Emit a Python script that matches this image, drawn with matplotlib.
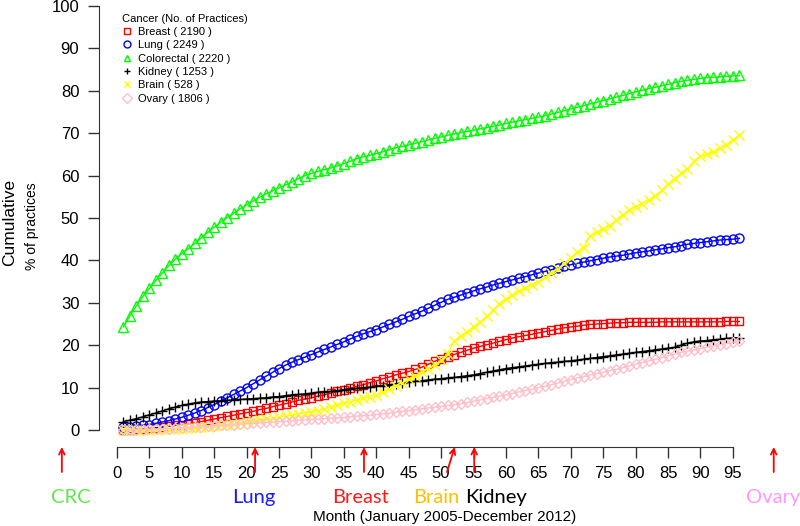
import matplotlib
matplotlib.use("Agg")
import matplotlib.pyplot as plt
from matplotlib.lines import Line2D

plt.rcParams["font.family"] = ["Liberation Sans", "DejaVu Sans"]

months = list(range(1, 97))

colorectal = [
    24.3, 27.0, 29.3, 31.5, 33.4, 35.3, 37.0, 38.8, 40.3, 41.6,
    42.8, 44.0, 45.3, 46.6, 47.8, 49.0, 50.1, 51.1, 52.2, 53.1,
    54.0, 54.9, 55.7, 56.4, 57.1, 57.8, 58.5, 59.3, 60.0, 60.5,
    61.0, 61.4, 61.8, 62.3, 62.8, 63.4, 64.0, 64.4, 64.8, 65.2,
    65.6, 66.1, 66.5, 66.9, 67.2, 67.6, 68.0, 68.4, 68.8, 69.1,
    69.5, 69.8, 70.1, 70.4, 70.7, 71.0, 71.3, 71.6, 71.9, 72.3,
    72.6, 72.9, 73.2, 73.5, 73.8, 74.1, 74.5, 74.9, 75.3, 75.7,
    76.1, 76.5, 76.9, 77.3, 77.7, 78.1, 78.5, 78.9, 79.3, 79.7,
    80.1, 80.5, 80.8, 81.2, 81.5, 81.9, 82.2, 82.5, 82.7, 82.9,
    83.1, 83.2, 83.3, 83.4, 83.5, 83.6,
]
lung = [
    0.7, 0.8, 0.9, 1.1, 1.3, 1.6, 1.9, 2.2, 2.6, 3.0,
    3.5, 4.0, 4.6, 5.3, 6.0, 6.8, 7.6, 8.4, 9.2, 10.0,
    10.9, 11.8, 12.7, 13.6, 14.5, 15.3, 16.0, 16.6, 17.2, 17.8,
    18.4, 19.0, 19.6, 20.2, 20.8, 21.5, 22.1, 22.7, 23.2, 23.7,
    24.3, 24.9, 25.5, 26.1, 26.8, 27.4, 28.0, 28.7, 29.4, 30.1,
    30.8, 31.3, 31.8, 32.3, 32.8, 33.3, 33.7, 34.2, 34.6, 35.0,
    35.4, 35.8, 36.2, 36.6, 37.0, 37.4, 37.8, 38.2, 38.6, 39.0,
    39.3, 39.6, 39.9, 40.2, 40.5, 40.8, 41.0, 41.2, 41.5, 41.8,
    42.0, 42.2, 42.5, 42.7, 43.0, 43.2, 43.5, 43.8, 44.0, 44.2,
    44.4, 44.6, 44.8, 44.9, 45.0, 45.2,
]
breast = [
    0.0, 0.1, 0.2, 0.3, 0.4, 0.5, 0.7, 0.9, 1.1, 1.3,
    1.5, 1.7, 2.0, 2.3, 2.6, 2.9, 3.2, 3.5, 3.8, 4.1,
    4.4, 4.8, 5.1, 5.5, 5.9, 6.2, 6.6, 7.0, 7.3, 7.6,
    8.0, 8.3, 8.7, 9.1, 9.5, 9.9, 10.3, 10.7, 11.2, 11.6,
    12.1, 12.5, 13.0, 13.4, 13.8, 14.3, 14.8, 15.5, 16.2, 16.8,
    17.3, 17.8, 18.3, 18.8, 19.3, 19.7, 20.1, 20.5, 20.9, 21.3,
    21.7, 22.0, 22.3, 22.6, 22.9, 23.2, 23.5, 23.8, 24.1, 24.3,
    24.5, 24.7, 24.9, 25.0, 25.1, 25.2, 25.3, 25.3, 25.4, 25.4,
    25.4, 25.4, 25.4, 25.5, 25.5, 25.5, 25.5, 25.5, 25.5, 25.5,
    25.5, 25.5, 25.5, 25.6, 25.6, 25.6,
]
kidney = [
    2.0, 2.3, 2.7, 3.1, 3.6, 4.0, 4.5, 5.0, 5.4, 5.8,
    6.1, 6.4, 6.6, 6.7, 6.8, 6.9, 7.0, 7.1, 7.2, 7.3,
    7.4, 7.5, 7.6, 7.8, 7.9, 8.1, 8.3, 8.4, 8.5, 8.7,
    8.9, 9.0, 9.1, 9.3, 9.5, 9.7, 9.8, 10.0, 10.1, 10.3,
    10.5, 10.7, 10.9, 11.1, 11.3, 11.5, 11.6, 11.8, 12.0, 12.1,
    12.3, 12.4, 12.6, 12.8, 13.0, 13.3, 13.6, 13.9, 14.2, 14.5,
    14.7, 14.9, 15.1, 15.3, 15.5, 15.7, 15.9, 16.0, 16.2, 16.3,
    16.5, 16.7, 16.9, 17.1, 17.3, 17.5, 17.7, 17.9, 18.1, 18.3,
    18.5, 18.7, 18.9, 19.1, 19.3, 19.5, 20.0, 20.5, 20.8, 21.0,
    21.1, 21.3, 21.4, 21.6, 21.7, 21.8,
]
brain = [
    0.0, 0.0, 0.0, 0.1, 0.1, 0.1, 0.2, 0.2, 0.3, 0.3,
    0.4, 0.5, 0.6, 0.7, 0.9, 1.1, 1.3, 1.5, 1.7, 2.0,
    2.2, 2.4, 2.6, 2.8, 3.0, 3.3, 3.5, 3.8, 4.0, 4.3,
    4.6, 5.0, 5.4, 5.8, 6.3, 6.7, 7.1, 7.5, 7.8, 8.2,
    8.9, 9.7, 10.5, 11.2, 12.0, 12.8, 13.6, 14.5, 15.4, 16.4,
    18.0, 21.0, 22.2, 23.2, 24.3, 25.5, 26.8, 28.2, 29.8, 31.0,
    31.8, 32.7, 33.5, 34.3, 35.0, 36.0, 37.0, 38.0, 39.3, 40.6,
    42.0, 43.0, 45.8, 46.6, 47.4, 48.2, 49.5, 50.8, 51.8, 52.7,
    53.4, 54.2, 55.2, 56.5, 58.0, 59.3, 60.5, 61.5, 63.5, 64.5,
    65.0, 65.6, 66.4, 67.3, 68.4, 69.5,
]
ovary = [
    0.0, 0.0, 0.1, 0.1, 0.2, 0.2, 0.3, 0.3, 0.4, 0.5,
    0.6, 0.7, 0.8, 0.9, 1.0, 1.1, 1.2, 1.3, 1.4, 1.5,
    1.6, 1.7, 1.8, 1.9, 2.0, 2.1, 2.2, 2.3, 2.4, 2.5,
    2.6, 2.7, 2.8, 2.9, 3.0, 3.1, 3.3, 3.4, 3.5, 3.7,
    3.8, 4.0, 4.2, 4.4, 4.6, 4.8, 5.0, 5.2, 5.4, 5.6,
    5.8, 6.0, 6.2, 6.5, 6.8, 7.1, 7.4, 7.7, 8.0, 8.3,
    8.6, 9.0, 9.3, 9.6, 10.0, 10.3, 10.7, 11.1, 11.5, 11.9,
    12.3, 12.6, 13.0, 13.3, 13.6, 14.0, 14.3, 14.7, 15.1, 15.5,
    15.9, 16.3, 16.7, 17.1, 17.5, 17.9, 18.3, 18.6, 18.9, 19.2,
    19.5, 19.8, 20.1, 20.4, 20.7, 21.0,
]

series_names = ["Breast", "Lung", "Colorectal", "Kidney", "Brain", "Ovary"]
series_counts = [2190, 2249, 2220, 1253, 528, 1806]
series_values = [breast, lung, colorectal, kidney, brain, ovary]
series_colors = ["#ff0000", "#0000ff", "#00ff00", "#000000", "#ffff00", "#ffc0cb"]
series_markers = ["s", "o", "^", "+", "x", "D"]
marker_sizes = {"s": 5.5, "o": 6.5, "^": 7.5, "+": 7.5, "x": 6.5, "D": 5.0}

# start-month markers drawn under the x axis
note_labels = ["CRC", "Lung", "Breast", "Brain", "Kidney", "Ovary"]
note_colors = ["#5fe84a", "#1a1aff", "#ff1a1a", "#ffc000", "#000000", "#ff99ff"]
note_label_x = [-7.1, 21.1, 37.6, 49.2, 58.5, 101.2]
arrow_tail_x = [-8.5, 21.3, 38.1, 50.9, 55.1, 101.3]
arrow_head_x = [-8.5, 21.3, 38.1, 52.1, 55.1, 101.3]

fig = plt.figure(figsize=(8.0, 5.26), dpi=100)
ax = fig.add_axes([0.1235, 0.1502, 0.8315, 0.8498])

for vals, col, mk in zip(series_values, series_colors, series_markers):
    ax.plot(months, vals, color=col, lw=1.0, marker=mk, ms=marker_sizes[mk],
            mfc="none", mec=col, mew=1.0, clip_on=False)

ax.set_xlim(-2.8, 99.8)
ax.set_ylim(-4, 101.4)
ax.set_xticks(range(0, 96, 5))
ax.set_yticks(range(0, 101, 10))
for s in ("top", "right"):
    ax.spines[s].set_visible(False)
ax.spines["left"].set_bounds(0, 100)
ax.spines["bottom"].set_bounds(0, 95)
for s in ("left", "bottom"):
    ax.spines[s].set_color("#333333")
ax.tick_params(axis="both", length=8, width=1, color="#333333", labelsize=12, pad=6)

handles = [Line2D([], [], ls="none", marker=mk, color=col, mfc="none", ms=5, mew=1.0)
           for mk, col in zip(series_markers, series_colors)]
labels = [f"{n} ( {c} )" for n, c in zip(series_names, series_counts)]
ax.legend(handles, labels, title="Cancer (No. of Practices)", loc="upper left",
          bbox_to_anchor=(116 / 800, 1 - 8 / 526), bbox_transform=fig.transFigure,
          frameon=False, fontsize=8, title_fontsize=8, alignment="left",
          handlelength=1.0, handletextpad=0.5, labelspacing=0.3, borderpad=0)

trans = ax.get_xaxis_transform()
for lab, col, lx, tx, hx in zip(note_labels, note_colors, note_label_x, arrow_tail_x, arrow_head_x):
    ax.annotate("", xy=(hx, 0.0), xytext=(tx, -0.056), xycoords=trans, textcoords=trans,
                arrowprops=dict(arrowstyle="->", color="red", lw=1.3, mutation_scale=10,
                                shrinkA=0, shrinkB=0),
                annotation_clip=False)
    ax.text(lx, -0.112, lab, transform=trans, color=col, fontsize=14.5,
            family=["Lato", "DejaVu Sans"], ha="center", va="center", clip_on=False)

fig.text(445 / 800, 1 - 517 / 526, "Month (January 2005-December 2012)",
         fontsize=11, ha="center", va="center")
fig.text(10 / 800, 1 - 222 / 526, "Cumulative", rotation=90, fontsize=12.5,
         ha="center", va="center")
fig.text(32 / 800, 1 - 226 / 526, "% of practices", rotation=90, fontsize=10,
         ha="center", va="center")

fig.savefig("out.png", dpi=100, facecolor="white")
